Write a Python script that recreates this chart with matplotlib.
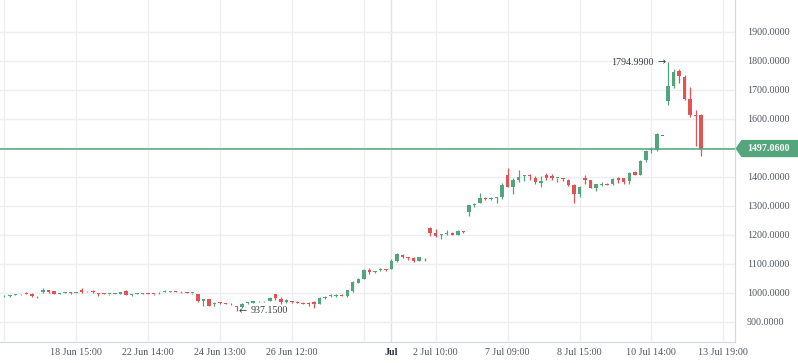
import matplotlib
matplotlib.use("Agg")
import matplotlib.pyplot as plt
from matplotlib.patches import Polygon
import numpy as np

# ---------------- data (bar index based, TradingView style) ----------------
opens = [981, 987, 989, 992, 994, 998, 997, 987, 1001, 1008,
         1005, 995, 1000, 1001, 999, 1011, 1005, 1005, 999, 999,
         996, 997, 997, 1006, 992, 996, 996, 997, 997, 998,
         1003, 1003, 1007, 1001, 1001, 999, 995, 971, 978, 962,
         967, 963, 962, 953, 949, 964, 966, 970, 970, 972,
         994, 979, 967, 970, 968, 966, 966, 969, 962, 980,
         987, 988, 993, 988, 1005, 1035, 1048, 1077, 1073, 1077,
         1081, 1082, 1111, 1130, 1122, 1121, 1111, 1120, 1224, 1206,
         1199, 1202, 1206, 1200, 1212, 1279, 1302, 1311, 1328, 1324,
         1327, 1329, 1406, 1366, 1390, 1401, 1405, 1395, 1379, 1405,
         1401, 1395, 1397, 1390, 1370, 1340, 1394, 1390, 1361, 1370,
         1374, 1374, 1395, 1394, 1385, 1417, 1407, 1457, 1492, 1492,
         1541, 1661, 1714, 1764, 1745, 1667, 1612, 1613]
highs = [983, 992, 993, 995, 997, 1002, 998, 989, 1016, 1010,
         1006, 1000, 1003, 1001, 1001, 1015, 1007, 1008, 999, 999,
         997, 1000, 1004, 1008, 995, 998, 999, 998, 997, 1002,
         1008, 1006, 1007, 1005, 1001, 1000, 995, 978, 979, 967,
         968, 964, 963, 953, 965, 968, 973, 973, 973, 984,
         995, 984, 978, 972, 970, 968, 967, 971, 984, 988,
         994, 994, 994, 1010, 1039, 1049, 1083, 1086, 1076, 1084,
         1082, 1115, 1137, 1132, 1123, 1122, 1124, 1121, 1228, 1219,
         1203, 1216, 1208, 1216, 1213, 1303, 1309, 1344, 1331, 1331,
         1329, 1377, 1429, 1394, 1423, 1406, 1408, 1403, 1403, 1414,
         1409, 1397, 1397, 1392, 1376, 1367, 1407, 1390, 1376, 1383,
         1379, 1395, 1400, 1395, 1417, 1418, 1457, 1493, 1503, 1552,
         1541, 1794.99, 1773, 1773, 1751, 1708, 1630, 1616]
lows = [975, 984, 985, 991, 993, 995, 986, 982, 999, 999,
        995, 995, 999, 995, 998, 1000, 1001, 998, 990, 995,
        991, 996, 997, 991, 988, 995, 995, 995, 991, 996,
        1002, 1002, 1002, 1000, 998, 994, 968, 954, 953, 955,
        962, 960, 959, 937.15, 946, 962, 965, 968, 967, 971,
        976, 962, 965, 965, 965, 961, 954, 947, 960, 977,
        985, 986, 989, 985, 1001, 1032, 1046, 1064, 1069, 1075,
        1076, 1080, 1107, 1118, 1114, 1105, 1108, 1111, 1197, 1191,
        1186, 1199, 1199, 1199, 1207, 1266, 1294, 1308, 1321, 1321,
        1310, 1322, 1366, 1340, 1383, 1386, 1390, 1375, 1364, 1389,
        1389, 1380, 1385, 1368, 1311, 1329, 1375, 1361, 1351, 1367,
        1370, 1373, 1377, 1376, 1374, 1405, 1405, 1450, 1480, 1490,
        1541, 1647, 1707, 1722, 1666, 1607, 1506, 1472]
closes = [977, 990, 991, 994, 996, 996, 987, 989, 1010, 1004,
          995, 1000, 1002, 999, 1001, 1003, 1007, 1003, 997, 997,
          997, 999, 1003, 992, 993, 997, 998, 996, 995, 1000,
          1004, 1005, 1002, 1003, 999, 1000, 971, 978, 955, 964,
          963, 961, 960, 949, 962, 966, 972, 972, 972, 983,
          980, 967, 975, 967, 966, 962, 961, 960, 982, 986,
          991, 992, 990, 1008, 1037, 1046, 1077, 1071, 1076, 1081,
          1078, 1111, 1132, 1124, 1121, 1109, 1122, 1118, 1207, 1195,
          1203, 1206, 1200, 1214, 1210, 1302, 1306, 1326, 1323, 1327,
          1328, 1371, 1366, 1389, 1398, 1405, 1401, 1380, 1386, 1395,
          1395, 1397, 1391, 1370, 1340, 1363, 1387, 1361, 1374, 1374,
          1370, 1393, 1389, 1383, 1413, 1407, 1455, 1488, 1495, 1546,
          1541, 1713, 1762, 1747, 1667, 1613, 1610, 1497.06]

y_ticks = [900, 1000, 1100, 1200, 1300, 1400, 1500, 1600, 1700, 1800, 1900]
x_grid_idx = [1, 14, 27, 40, 53, 66, 79, 92, 105, 118, 131]
x_label_idx = [14, 27, 40, 53, 71, 79, 92, 105, 118, 131]
x_labels = ["18 Jun 15:00", "22 Jun 14:00", "24 Jun 13:00", "26 Jun 12:00", "Jul",
            "2 Jul 10:00", "7 Jul 09:00", "8 Jul 15:00", "10 Jul 14:00", "13 Jul 19:00"]
last_price = 1497.06
max_label = "1794.9900"
min_label = "937.1500"

# ---------------- style ----------------
UP = "#53a57c"
DOWN = "#e05455"
DOJI = "#6b6e75"
GRID = "#eceef1"
TEXT = "#50555f"
AXLINE = "#d5d8dd"
FONT = ["Liberation Serif", "DejaVu Serif"]
ANN = "#3a3d45"

W, H = 798, 363
fig = plt.figure(figsize=(W / 100, H / 100), dpi=100)
fig.patch.set_facecolor("white")
ax = fig.add_axes([0, 21 / H, 735 / W, 342 / H])

n = len(opens)
x = np.arange(n)
o = np.array(opens, float)
c = np.array(closes, float)
hi = np.array(highs, float)
lo = np.array(lows, float)

colors = [UP if cc > oo else (DOWN if cc < oo else DOJI) for oo, cc in zip(o, c)]

# grid
for g in x_grid_idx:
    ax.axvline(g, color=GRID, lw=1.0, zorder=0)
ax.axvline(71, color="#e1e3e7", lw=1.0, zorder=0)
for t in y_ticks:
    ax.axhline(t, color=GRID, lw=1.0, zorder=0)

# candles
ax.vlines(x, lo, hi, colors=colors, lw=0.9, zorder=2)
bottom = np.minimum(o, c)
height = np.maximum(np.abs(c - o), 2.5)
ax.bar(x, height, bottom=bottom, width=0.62, color=colors, linewidth=0, zorder=3)

# last price line
ax.axhline(last_price, color=UP, lw=1.1, zorder=4)

ax.set_xlim(0.222, 133.11)
ax.set_ylim(830, 2009.3)

# axes look
for s in ["top", "left"]:
    ax.spines[s].set_visible(False)
ax.spines["bottom"].set_color(AXLINE)
ax.spines["right"].set_color(AXLINE)
ax.spines["bottom"].set_linewidth(0.9)
ax.spines["right"].set_linewidth(0.9)

ax.yaxis.tick_right()
ax.set_yticks([t for t in y_ticks if t != 1500])
ax.set_yticklabels([f"{t:.4f}" for t in y_ticks if t != 1500])
ax.tick_params(axis="y", length=0, pad=8.5, labelsize=7.2, labelcolor=TEXT)
for lab in ax.get_yticklabels():
    lab.set_family(FONT)

ax.set_xticks(x_label_idx)
ax.set_xticklabels(x_labels)
ax.tick_params(axis="x", length=0, pad=4.5, labelsize=7.2, labelcolor=TEXT)
for lab in ax.get_xticklabels():
    lab.set_family(FONT)
    if lab.get_text() == "Jul":
        lab.set_fontweight("bold")
        lab.set_color("#2a2e39")

# high / low annotations (arrow glyph drawn separately in DejaVu Sans)
imax = int(np.argmax(hi))
imin = int(np.argmin(lo))
ax.annotate("\u2192", xy=(imax, hi[imax]), xytext=(-1.8, 0),
            textcoords="offset points", ha="right", va="center",
            fontsize=7.0, color=ANN, family="DejaVu Sans", zorder=5)
ax.annotate(max_label, xy=(imax, hi[imax]), xytext=(-10.6, 0),
            textcoords="offset points", ha="right", va="center",
            fontsize=7.2, color=ANN, family=FONT, zorder=5)
ax.annotate("\u2190", xy=(imin, lo[imin]), xytext=(1.3, 0),
            textcoords="offset points", ha="left", va="center",
            fontsize=7.0, color=ANN, family="DejaVu Sans", zorder=5)
ax.annotate(min_label, xy=(imin, lo[imin]), xytext=(10.4, 0),
            textcoords="offset points", ha="left", va="center",
            fontsize=7.2, color=ANN, family=FONT, zorder=5)

# last price label (arrow shaped tag on the right scale)
yp = ax.transData.transform((0, last_price))[1]  # pixel y from bottom
yt = H - yp
pts_px = [(735.5, yt), (741.5, yt - 8.6), (798, yt - 8.6), (798, yt + 8.6), (741.5, yt + 8.6)]
poly = Polygon([(px / W, 1 - py / H) for px, py in pts_px], closed=True,
               transform=fig.transFigure, facecolor=UP, edgecolor="none", zorder=10)
fig.add_artist(poly)
fig.text(768.5 / W, 1 - yt / H, f"{last_price:.4f}", ha="center", va="center",
         fontsize=7.2, fontweight="bold", color="white", family=FONT, zorder=11)

fig.savefig("out.png", dpi=100, facecolor="white")
